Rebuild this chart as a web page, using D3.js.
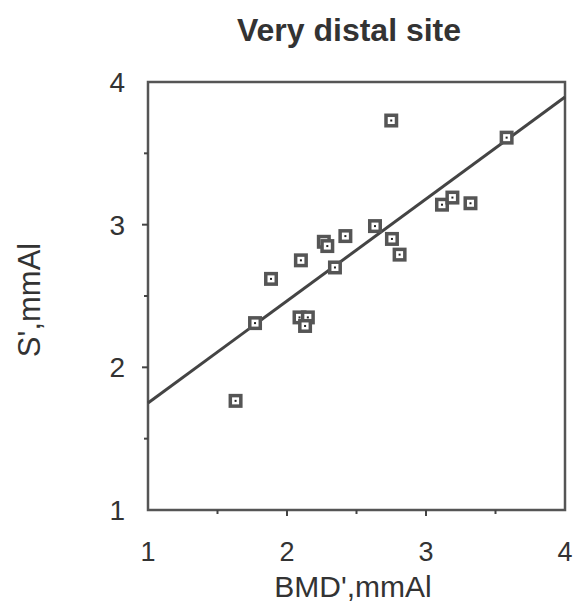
<!DOCTYPE html>
<html>
<head>
<meta charset="utf-8">
<script src="https://cdn.jsdelivr.net/npm/d3@7"></script>
<style>
  body { margin: 0; background: #fff; }
  text { font-family: "Liberation Sans", Arial, sans-serif; fill: #333; }
</style>
</head>
<body>
<svg id="chart" width="575" height="611"></svg>
<script>
// values
var bmd = [1.63, 1.77, 1.885, 2.10, 2.09, 2.15, 2.13, 2.265, 2.29, 2.42, 2.345, 2.633, 2.755, 2.81, 2.75, 3.115, 3.19, 3.32, 3.58];
var sval = [1.765, 2.31, 2.62, 2.75, 2.35, 2.35, 2.29, 2.88, 2.85, 2.92, 2.70, 2.99, 2.90, 2.79, 3.73, 3.14, 3.19, 3.15, 3.61];
var fitX = [1, 4];
var fitY = [1.75, 3.895];
var xTicks = [1, 2, 3, 4];
var yTicks = [1, 2, 3, 4];
var minorTicks = [1.5, 2.5, 3.5];

var svg = d3.select("#chart");
var x = d3.scaleLinear().domain([1, 4]).range([148, 565]);
var y = d3.scaleLinear().domain([1, 4]).range([510, 82]);
var ink = "#444";

// frame
svg.append("rect").attr("x", x(1)).attr("y", y(4))
  .attr("width", x(4) - x(1)).attr("height", y(1) - y(4))
  .attr("fill", "none").attr("stroke", "#555").attr("stroke-width", 2.5);

// ticks
svg.selectAll(".xt").data(xTicks.slice(1, 3).concat(minorTicks)).enter().append("line")
  .attr("x1", function(d){ return x(d) }).attr("x2", function(d){ return x(d) })
  .attr("y1", y(1)).attr("y2", function(d){ return minorTicks.indexOf(d) >= 0 ? y(1) + 4 : y(1) + 6 })
  .attr("stroke", ink).attr("stroke-width", 2);
svg.selectAll(".yt").data(yTicks.slice(1, 3).concat(minorTicks)).enter().append("line")
  .attr("y1", function(d){ return y(d) }).attr("y2", function(d){ return y(d) })
  .attr("x1", x(1)).attr("x2", function(d){ return minorTicks.indexOf(d) >= 0 ? x(1) - 4 : x(1) - 6 })
  .attr("stroke", ink).attr("stroke-width", 2);

// tick labels
svg.selectAll(".xl").data(xTicks).enter().append("text")
  .attr("x", function(d){ return x(d) }).attr("y", 561)
  .attr("text-anchor", "middle").attr("font-size", 27).text(function(d){ return d });
svg.selectAll(".yl").data(yTicks).enter().append("text")
  .attr("x", 125).attr("y", function(d){ return y(d) + 10 })
  .attr("text-anchor", "end").attr("font-size", 28).text(function(d){ return d });

// regression line
svg.append("line")
  .attr("x1", x(fitX[0])).attr("y1", y(fitY[0]))
  .attr("x2", x(fitX[1])).attr("y2", y(fitY[1]))
  .attr("stroke", ink).attr("stroke-width", 3);

// markers
var pts = svg.selectAll(".pt").data(d3.range(bmd.length)).enter().append("g")
  .attr("transform", function(i){ return "translate(" + x(bmd[i]) + "," + y(sval[i]) + ")" });
pts.append("rect").attr("x", -7).attr("y", -7).attr("width", 14).attr("height", 14).attr("fill", "#555");
pts.append("rect").attr("x", -3.5).attr("y", -3.5).attr("width", 7).attr("height", 7).attr("fill", "#fff");
pts.append("rect").attr("x", -1).attr("y", -1).attr("width", 2).attr("height", 2).attr("fill", "#222");

// titles
svg.append("text").attr("x", 349).attr("y", 41).attr("text-anchor", "middle")
  .attr("font-size", 32).attr("font-weight", "bold").text("Very distal site");
svg.append("text").attr("x", 353).attr("y", 597).attr("text-anchor", "middle")
  .attr("font-size", 30).text("BMD',mmAl");
svg.append("text").attr("transform", "translate(40,300) rotate(-90)").attr("text-anchor", "middle")
  .attr("font-size", 31).text("S',mmAl");
</script>
</body>
</html>
